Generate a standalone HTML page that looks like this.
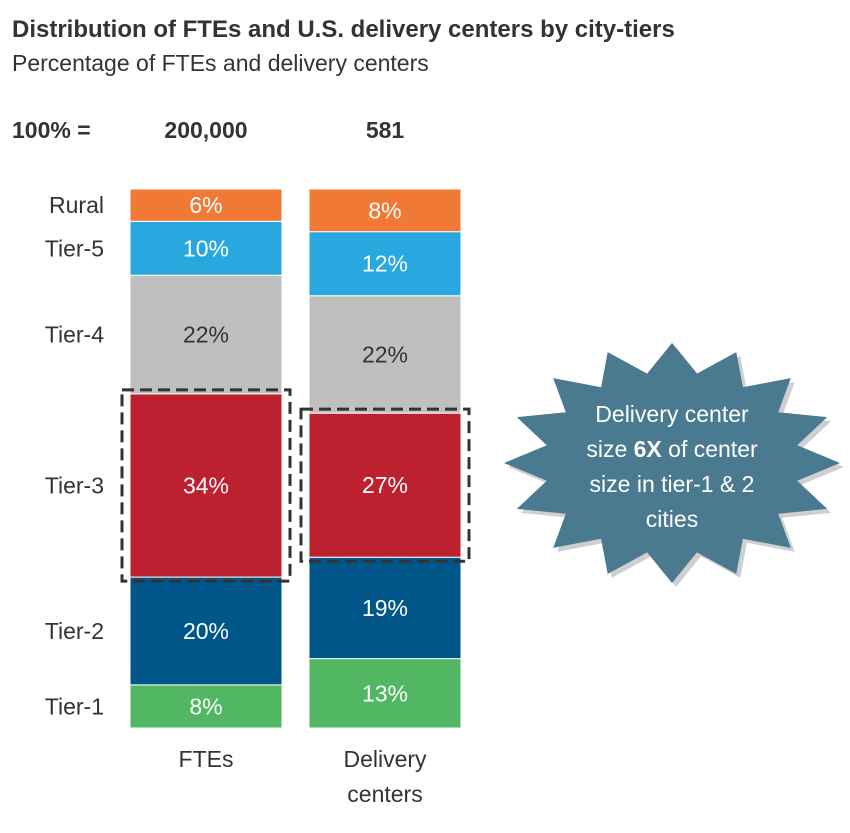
<!DOCTYPE html>
<html><head><meta charset="utf-8">
<style>
body{margin:0;background:#fff;font-family:"Liberation Sans",Arial,sans-serif;}
svg text{font-family:"Liberation Sans",Arial,sans-serif;}
</style></head>
<body>
<svg id="chart" width="850" height="828" viewBox="0 0 850 828" xmlns="http://www.w3.org/2000/svg">
<text x="12" y="37" font-size="24" font-weight="bold" fill="#333">Distribution of FTEs and U.S. delivery centers by city-tiers</text>
<text x="12" y="71" font-size="23" fill="#333">Percentage of FTEs and delivery centers</text>
<text x="12" y="138" font-size="23" font-weight="bold" fill="#333">100% =</text>
<text x="206" y="138" font-size="23" font-weight="bold" fill="#333" text-anchor="middle">200,000</text>
<text x="385" y="138" font-size="23" font-weight="bold" fill="#333" text-anchor="middle">581</text>
<g id="bars"></g>
<g id="callout"></g>
</svg>
<script>
const categories = ["FTEs", "Delivery centers"];
const tiers = ["Tier-1", "Tier-2", "Tier-3", "Tier-4", "Tier-5", "Rural"];
const ftesValues = [8, 20, 34, 22, 10, 6];
const centersValues = [13, 19, 27, 22, 12, 8];
const colors = ["#52b763", "#005689", "#bd202e", "#bfbfbf", "#29a8e0", "#f07a35"];
const textColors = ["#fff", "#fff", "#fff", "#333", "#fff", "#fff"];

const NS = "http://www.w3.org/2000/svg";
const svg = document.getElementById("chart");
const g = document.getElementById("bars");
const barX = [130, 309], barW = 152, yTop = 189, yBot = 728;
function mk(tag, attrs, parent) {
  const e = document.createElementNS(NS, tag);
  for (const k in attrs) e.setAttribute(k, attrs[k]);
  (parent || g).appendChild(e);
  return e;
}
const series = [ftesValues, centersValues];
const segs = [[], []];
series.forEach((vals, bi) => {
  const total = vals.reduce((a, b) => a + b, 0);
  const scale = v => v / total * (yBot - yTop);
  let y = yBot;
  vals.forEach((v, i) => {
    const h = scale(v);
    const r = mk("rect", {x: barX[bi], y: y - h, width: barW, height: h, fill: colors[i], stroke: "#fff", "stroke-width": 1});
    
    
    const t = mk("text", {x: barX[bi] + barW / 2, y: y - h / 2 + 8, "font-size": 23, fill: textColors[i], "text-anchor": "middle"});
    t.textContent = v + "%";
    
    
    segs[bi].push([y - h, y]);
    if (bi === 0) {
      const l = mk("text", {x: 104, y: y - h / 2 + 8, "font-size": 23, fill: "#333", "text-anchor": "end"});
      l.textContent = tiers[i];
      
      
    }
    y -= h;
  });
});
// dashed highlight boxes around Tier-3
[0, 1].forEach(bi => {
  const [a, b] = segs[bi][2];
  const r = mk("rect", {x: barX[bi] - 8, y: a - 4, width: barW + 16, height: b - a + 8, fill: "none", stroke: "#333", "stroke-width": 3, "stroke-dasharray": "12 6"});
  
  
});
// category labels
const cl1 = mk("text", {x: 206, y: 767, "font-size": 23, fill: "#333", "text-anchor": "middle"});
cl1.textContent = categories[0];


const cl2 = mk("text", {x: 385, y: 767, "font-size": 23, fill: "#333", "text-anchor": "middle"});
cl2.textContent = "Delivery";


const cl3 = mk("text", {x: 385, y: 802, "font-size": 23, fill: "#333", "text-anchor": "middle"});
cl3.textContent = "centers";



// starburst
const cg = document.getElementById("callout");
function star(cx, cy, rx, ry, n, k) {
  let pts = [];
  for (let i = 0; i < 2 * n; i++) {
    const ang = -Math.PI / 2 + i * Math.PI / n;
    const f = i % 2 === 0 ? 1 : k;
    pts.push((cx + rx * f * Math.cos(ang)).toFixed(1) + "," + (cy + ry * f * Math.sin(ang)).toFixed(1));
  }
  return pts.join(" ");
}
const sh = mk("polygon", {points: star(676, 467, 168, 120, 16, 0.76), fill: "#cfcfcf"}, cg);


const st = mk("polygon", {points: star(672, 463, 168, 120, 16, 0.76), fill: "#4a7a8f"}, cg);


const lines = ["Delivery center", "size <tspan font-weight='bold'>6X</tspan> of center", "size in tier-1 &amp; 2", "cities"];
lines.forEach((s, i) => {
  const t = mk("text", {x: 672, y: 422 + i * 35, "font-size": 23, fill: "#fff", "text-anchor": "middle"}, cg);
  t.innerHTML = s;
  
  
});
</script>
</body></html>
